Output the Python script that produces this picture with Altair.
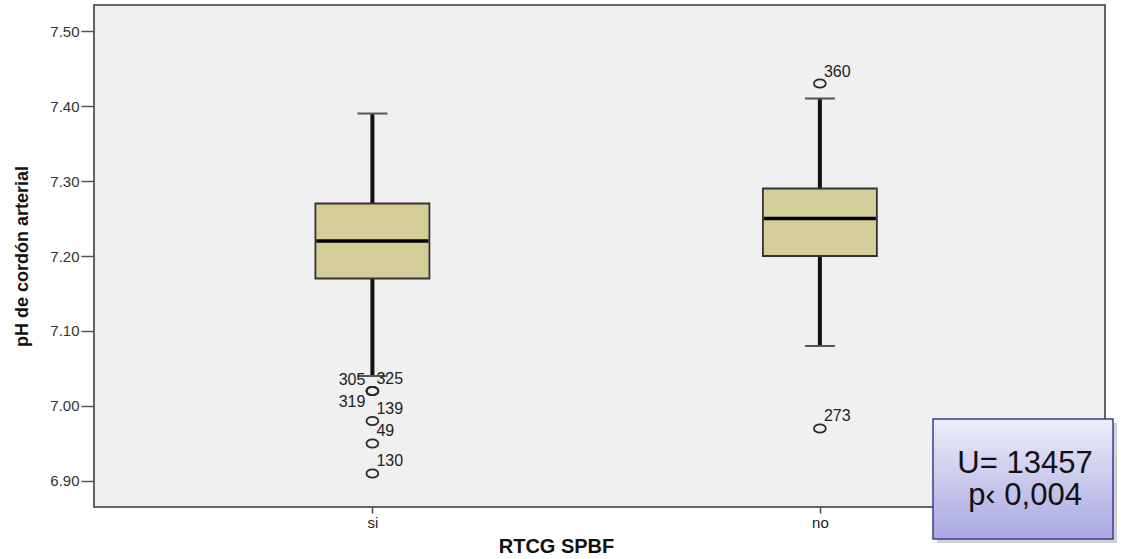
import altair as alt
import pandas as pd

# ---- data ----
groups = ["si", "no"]
group_pos = [1, 2]
whisker_low = [7.04, 7.08]
q1 = [7.17, 7.20]
median = [7.22, 7.25]
q3 = [7.27, 7.29]
whisker_high = [7.39, 7.41]

outlier_group = ["si", "si", "si", "si", "si", "si", "no", "no"]
outlier_value = [7.02, 7.02, 7.02, 6.98, 6.95, 6.91, 7.43, 6.97]
outlier_id = ["305", "325", "319", "139", "49", "130", "360", "273"]

y_ticks = [6.90, 7.00, 7.10, 7.20, 7.30, 7.40, 7.50]
annot_lines = ["U= 13457", "p\u2039 0,004"]

# ---- tables ----
box_df = pd.DataFrame({
    "group": groups, "pos": group_pos, "low": whisker_low, "q1": q1,
    "median": median, "q3": q3, "high": whisker_high,
})
pos_of = dict(zip(groups, group_pos))
out_df = pd.DataFrame({
    "group": outlier_group,
    "pos": [pos_of[g] for g in outlier_group],
    "value": outlier_value,
    "id": outlier_id,
})

FONT = "Liberation Sans"
label_expr = " : ".join(
    f"datum.value == {p} ? '{g}'" for g, p in zip(groups, group_pos)
) + " : ''"

x_enc = alt.X(
    "pos:Q",
    scale=alt.Scale(domain=[0.389, 2.626], nice=False, zero=False),
    axis=alt.Axis(
        values=group_pos, labelExpr=label_expr, title="RTCG SPBF",
        grid=False, domain=False, tickSize=6, tickWidth=1.5, tickColor="#444",
        labelFontSize=15, labelColor="#222", labelPadding=2, labelFont=FONT,
        titleFont=FONT, titleFontSize=20, titleFontWeight="bold", titleColor="#111",
        titleX=462, titleY=45, titleBaseline="alphabetic", titleAnchor="start", titleAlign="center",
    ),
)
y_scale = alt.Scale(domain=[6.8653, 7.5347], nice=False, zero=False)
y_axis = alt.Axis(
    values=y_ticks, format=".2f", title="pH de cord\u00f3n arterial",
    grid=False, domain=False, tickSize=13, tickWidth=1.5, tickColor="#555",
    labelFontSize=15, labelColor="#333", labelPadding=2, labelFont=FONT,
    titleFont=FONT, titleFontSize=18, titleFontWeight="bold", titleColor="#111",
    titleX=-72, titleY=251, titleBaseline="middle", titleAnchor="start", titleAlign="center",
)

base = alt.Chart(box_df).encode(x=x_enc)

whisker = base.mark_rule(color="#111", strokeWidth=4, opacity=1).encode(
    y=alt.Y("low:Q", scale=y_scale, axis=y_axis), y2="high:Q"
)
cap_low = base.mark_tick(orient="horizontal", size=30, thickness=2, color="#555", opacity=1).encode(
    y=alt.Y("low:Q", scale=y_scale)
)
cap_high = base.mark_tick(orient="horizontal", size=30, thickness=2, color="#555", opacity=1).encode(
    y=alt.Y("high:Q", scale=y_scale)
)
box = base.mark_bar(size=114, fill="#d3ce97", stroke="#333", strokeWidth=1.8, opacity=1).encode(
    y=alt.Y("q1:Q", scale=y_scale), y2="q3:Q"
)
med = base.mark_tick(orient="horizontal", size=112, thickness=3.5, color="#000", opacity=1).encode(
    y=alt.Y("median:Q", scale=y_scale)
)

ellipse = "M -1 0 A 1 0.7 0 1 0 1 0 A 1 0.7 0 1 0 -1 0 Z"
obase = alt.Chart(out_df).encode(x=alt.X("pos:Q"), y=alt.Y("value:Q", scale=y_scale))
points = obase.mark_point(shape=ellipse, filled=False, size=140, strokeWidth=1.8,
                          color="#2a2a2a", opacity=1)

left_up = ["305"]
left_down = ["319"]
right_ids = [i for i in outlier_id if i not in left_up + left_down]
lab_style = dict(font=FONT, fontSize=16, color="#222", baseline="middle")
lab_right = obase.mark_text(align="left", dx=4, dy=-12, **lab_style).encode(text="id:N").transform_filter(
    alt.FieldOneOfPredicate(field="id", oneOf=right_ids)
)
lab_lu = obase.mark_text(align="right", dx=-7, dy=-11, **lab_style).encode(text="id:N").transform_filter(
    alt.FieldOneOfPredicate(field="id", oneOf=left_up)
)
lab_ld = obase.mark_text(align="right", dx=-7, dy=11, **lab_style).encode(text="id:N").transform_filter(
    alt.FieldOneOfPredicate(field="id", oneOf=left_down)
)

# ---- annotation box (pixel placement, overlaps the frame like the reference) ----
ann = alt.Chart(pd.DataFrame({"t": [0]}))
shadow = ann.mark_rect(color="#000", opacity=0.18).encode(
    x=alt.value(843), x2=alt.value(1023), y=alt.value(418), y2=alt.value(538)
)
grad = alt.Gradient(
    gradient="linear",
    stops=[alt.GradientStop(color="#ededfa", offset=0), alt.GradientStop(color="#a8a8e0", offset=1)],
    x1=0, x2=0, y1=0, y2=1,
)
panel = ann.mark_rect(color=grad, stroke="#3c3c90", strokeWidth=1.5, opacity=1).encode(
    x=alt.value(839), x2=alt.value(1019), y=alt.value(414), y2=alt.value(534)
)
ann_text = ann.mark_text(
    text=annot_lines, font=FONT, fontSize=31, color="#111", align="center",
    baseline="alphabetic", lineHeight=32,
).encode(x=alt.value(931), y=alt.value(468))

chart = alt.layer(
    whisker, cap_low, cap_high, box, med, points, lab_right, lab_lu, lab_ld,
    shadow, panel, ann_text,
).properties(
    width=1011, height=502,
    autosize=alt.AutoSizeParams(type="none"),
    padding={"left": 94, "top": 5, "right": 18, "bottom": 52},
    background="white",
).configure_view(
    fill="#f0f0f0", stroke="#333", strokeWidth=1.5
)

chart.save("out.html", embed_options={"renderer": "svg", "actions": False})
